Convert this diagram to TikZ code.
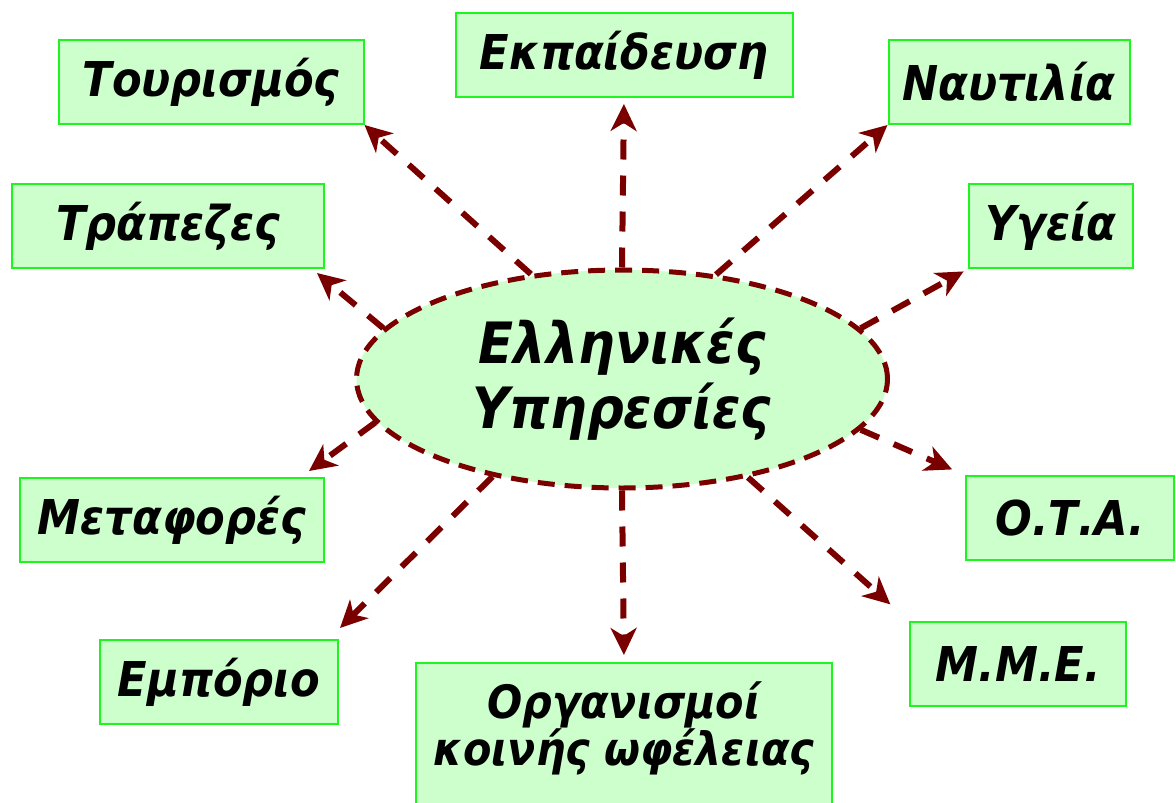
\documentclass[tikz,border=0pt]{standalone}
\usepackage{fontspec}
\newfontfamily\labelfont{DejaVu Sans Condensed Bold Oblique}
\usetikzlibrary{arrows.meta,shapes.geometric,calc}
\definecolor{boxfill}{HTML}{CCFFCC}
\definecolor{boxline}{HTML}{1EF51E}
\definecolor{darrow}{HTML}{7A0000}
\begin{document}
\begin{tikzpicture}[x=1pt, y=-1pt,
    box/.style={rectangle, draw=boxline, fill=boxfill, line width=2pt,
      minimum height=84pt, inner sep=0pt,
      font=\labelfont\fontsize{48}{58}\selectfont},
    hub/.style={ellipse, draw=darrow, fill=boxfill, line width=5pt,
      dash pattern=on 17pt off 10pt, minimum width=531pt,
      minimum height=218pt, inner sep=0pt, align=center,
      font=\labelfont\fontsize{57}{65}\selectfont},
    flow/.style={draw=darrow, line width=6pt,
      dash pattern=on 20pt off 16pt,
      -{Stealth[length=27pt, width=26pt, inset=8pt]}}]
  \useasboundingbox (0,0) rectangle (1176,803);
  \node [hub] (hub) at (622,379) {Ελληνικές\\Υπηρεσίες};
  \begin{scope}[every node/.style={box}]
    \node [minimum width=305pt] (tour) at (211,82) {Τουρισμός};
    \node [minimum width=337pt] (edu) at (624,55) {Εκπαίδευση};
    \node [minimum width=241pt] (naut) at (1009,82) {Ναυτιλία};
    \node [minimum width=312pt] (bank) at (168,226) {Τράπεζες};
    \node [minimum width=164pt] (health) at (1051,226) {Υγεία};
    \node [minimum width=304pt] (trans) at (172,520) {Μεταφορές};
    \node [minimum width=208pt] (ota) at (1070,518) {Ο.Τ.Α.};
    \node [minimum width=238pt] (trade) at (219,682) {Εμπόριο};
    \node [minimum width=216pt] (mme) at (1018,664) {Μ.Μ.Ε.};
    \node [minimum width=416pt, minimum height=170pt, anchor=north]
      (util) at (624,662) {};
  \end{scope}
  \node [align=center, font=\labelfont\fontsize{46}{47}\selectfont]
    (utiltext) at (624,728) {Οργανισμοί\\κοινής ωφέλειας};
  \begin{scope}[flow]
    \draw (hub.131) to (tour.south east); \draw (hub.168) to
    ($(bank.south east)+(-8,4)$); \draw [shorten >=6pt] (hub.90)
    to (edu.south); \draw (hub.48) to (naut.south west); \draw
    [shorten >=5pt] (hub.12) to (health.south west); \draw [shorten
    >=14pt] (hub.-12) to (ota.north west); \draw [shorten >=25pt]
    (hub.-38) to (mme.north west); \draw [shorten >=7pt] (hub.-90)
    to (util.north); \draw (hub.217) to ($(trade.north
    east)+(1,-11)$); \draw (hub.190) to ($(trans.north
    east)+(-16,-6)$);
  \end{scope}
\end{tikzpicture}
\end{document}
